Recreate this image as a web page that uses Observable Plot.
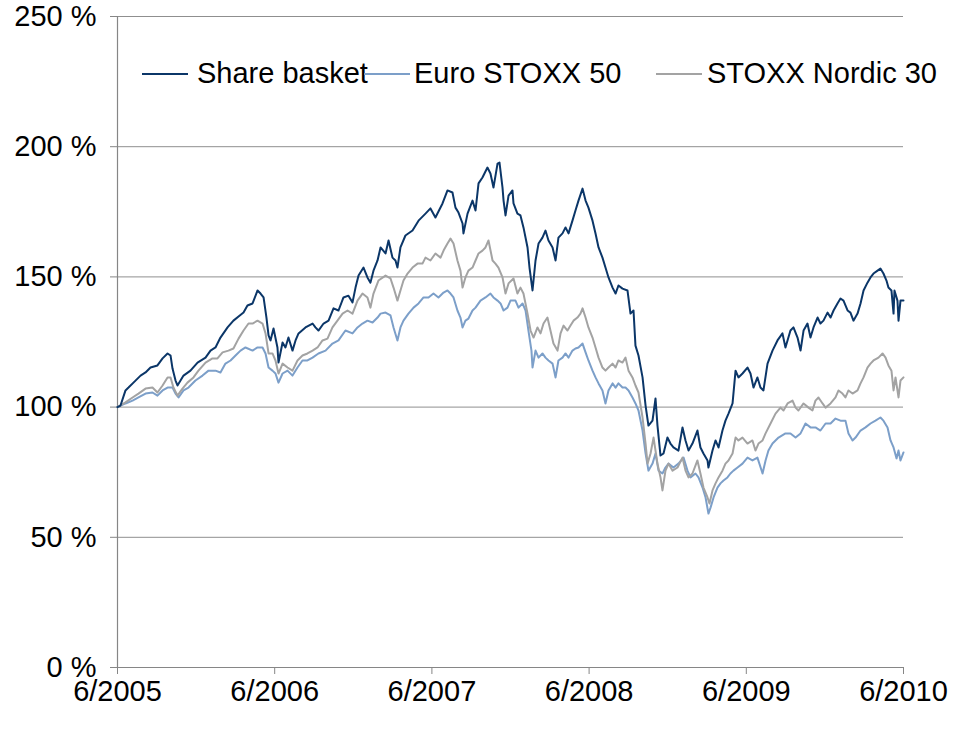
<!DOCTYPE html>
<html>
<head>
<meta charset="utf-8">
<script src="https://cdn.jsdelivr.net/npm/d3@7"></script>
<script src="https://cdn.jsdelivr.net/npm/@observablehq/plot@0.6"></script>
<style>
  html, body { margin: 0; padding: 0; background: #fff; }
  #wrap { position: relative; width: 954px; height: 729px; font-family: "Liberation Sans", Arial, sans-serif; }
  #legend { position: absolute; left: 0; top: 0; width: 954px; height: 100px; pointer-events: none; }
  .sw { position: absolute; height: 2px; top: 73px; width: 46px; }
  .lt { position: absolute; top: 59px; font-size: 29px; line-height: 29px; color: #000; white-space: nowrap; }
</style>
</head>
<body>
<div id="wrap">
  <div id="chart"></div>
  <div id="legend"></div>
</div>
<script>
// Series names and colours
const seriesNames = ["Share basket", "Euro STOXX 50", "STOXX Nordic 30"];
const seriesColors = ["#0b3668", "#7c9fc9", "#a3a3a3"];

// x = months since 6/2005, value = index level in %
const shareBasket = [
[0,100],[0.23,100.6],[0.61,106.4],[0.84,107.5],[1.22,109.4],[1.76,112.1],[2.14,113.3],[2.52,115.2],[3.05,116.0],[3.44,118.7],
[3.82,120.6],[4.05,119.8],[4.20,114.8],[4.43,110.2],[4.58,108.3],[5.04,112.1],[5.57,114.0],[6.11,117.1],[6.72,119.0],[7.10,121.7],
[7.48,122.9],[7.86,126.7],[8.40,130.6],[8.85,133.2],[9.24,134.8],[9.62,136.3],[9.92,139.0],[10.31,139.8],[10.69,144.8],[10.92,143.6],
[11.15,142.1],[11.37,134.4],[11.53,127.5],[11.68,125.6],[11.91,130.2],[12.21,122.9],[12.29,117.1],[12.60,124.8],[12.82,122.9],[13.05,126.7],
[13.36,121.7],[13.59,125.6],[13.82,128.3],[14.35,130.6],[14.89,132.1],[15.11,130.6],[15.34,129.4],[15.73,132.1],[16.11,133.2],[16.49,137.9],
[16.87,137.1],[17.25,142.1],[17.63,142.8],[17.94,140.2],[18.17,145.9],[18.40,150.5],[18.78,153.6],[19.08,149.8],[19.31,147.8],[19.54,152.4],
[19.85,156.3],[20.08,161.3],[20.46,159.0],[20.69,164.0],[20.99,157.4],[21.22,156.3],[21.37,153.6],[21.60,161.3],[21.98,165.9],[22.52,167.8],
[22.98,171.6],[23.51,174.3],[23.89,176.3],[24.27,172.8],[24.81,178.2],[25.19,183.2],[25.57,182.4],[25.80,176.6],[26.03,174.7],[26.34,170.5],
[26.41,166.7],[26.72,174.3],[27.10,179.3],[27.33,175.5],[27.56,185.9],[27.86,188.2],[28.24,192.0],[28.47,189.7],[28.70,184.3],[29.01,193.5],
[29.16,193.9],[29.39,184.3],[29.47,179.3],[29.62,173.6],[29.85,181.2],[30.15,183.2],[30.23,178.2],[30.53,174.3],[30.76,173.6],[30.99,169.0],
[31.30,161.3],[31.45,153.6],[31.68,144.8],[31.91,156.3],[32.14,162.8],[32.44,165.1],[32.67,167.8],[32.90,164.0],[33.21,161.3],[33.44,156.3],
[33.66,165.1],[33.97,166.7],[34.20,169.0],[34.43,166.7],[34.73,171.6],[34.96,175.5],[35.19,179.3],[35.50,183.9],[35.73,179.3],[35.95,176.6],
[36.26,171.6],[36.49,166.7],[36.72,161.3],[37.02,157.4],[37.25,153.6],[37.48,149.8],[37.79,145.9],[38.02,143.6],[38.24,146.7],[38.55,145.5],
[38.93,144.8],[39.16,135.9],[39.39,137.1],[39.54,123.6],[39.77,119.8],[40.08,111.4],[40.31,100.6],[40.53,92.9],[40.84,94.8],[41.07,103.3],
[41.22,92.9],[41.45,81.4],[41.68,82.2],[41.98,88.3],[42.21,86.0],[42.44,84.5],[42.82,83.3],[43.13,92.2],[43.36,87.2],[43.59,83.3],
[43.89,86.0],[44.27,91.0],[44.50,84.5],[44.73,82.2],[45.04,79.5],[45.11,76.8],[45.42,83.3],[45.65,87.2],[45.88,84.5],[46.18,91.0],
[46.41,94.8],[46.64,97.5],[46.95,101.4],[47.18,114.0],[47.40,111.4],[47.71,112.9],[48.09,115.2],[48.32,112.9],[48.55,107.5],[48.85,111.4],
[49.08,107.5],[49.31,106.4],[49.62,116.7],[50.00,121.7],[50.38,125.6],[50.76,128.3],[50.99,122.9],[51.37,129.4],[51.60,130.6],[51.91,126.7],
[52.14,121.7],[52.37,129.4],[52.67,132.1],[52.90,126.7],[53.13,130.6],[53.44,134.4],[53.66,132.1],[53.89,133.2],[54.20,136.3],[54.43,134.4],
[54.66,137.1],[54.96,139.8],[55.19,141.7],[55.42,140.9],[55.73,137.1],[55.95,136.3],[56.18,133.2],[56.49,135.9],[56.72,139.8],[56.95,144.8],
[57.25,147.8],[57.48,149.8],[57.71,151.3],[58.02,152.4],[58.24,153.2],[58.47,151.3],[58.70,148.6],[58.85,145.9],[59.08,144.8],[59.24,135.9],
[59.31,144.8],[59.54,140.9],[59.62,133.2],[59.77,140.9],[60,140.9]
];

const euroStoxx50 = [
[0,100],[0.61,101.4],[1.15,102.5],[1.60,103.7],[2.14,105.2],[2.67,105.6],[3.05,104.4],[3.44,106.4],[3.82,107.5],[4.20,107.5],
[4.43,105.2],[4.66,103.7],[5.04,106.4],[5.42,107.5],[5.95,110.2],[6.49,112.1],[6.95,114.0],[7.48,114.0],[7.86,113.3],[8.24,116.7],
[8.63,117.9],[9.01,119.8],[9.39,121.7],[9.77,122.9],[10.31,121.7],[10.69,122.9],[11.07,122.9],[11.30,120.6],[11.53,115.2],[11.83,114.0],
[12.06,112.9],[12.29,109.4],[12.60,112.9],[12.98,114.0],[13.36,112.1],[13.74,115.2],[14.12,117.9],[14.50,117.9],[14.89,119.0],[15.34,120.6],
[15.88,121.7],[16.41,124.4],[16.87,125.6],[17.40,129.4],[17.94,128.3],[18.32,130.6],[18.70,132.1],[19.08,133.2],[19.47,132.5],[19.85,134.4],
[20.08,135.9],[20.46,136.3],[20.84,135.2],[21.07,130.6],[21.37,125.6],[21.60,130.6],[21.83,133.2],[22.21,135.9],[22.60,138.2],[22.98,139.8],
[23.36,142.1],[23.74,142.1],[24.12,143.6],[24.50,142.1],[24.89,144.0],[25.19,144.8],[25.42,143.6],[25.65,142.1],[25.95,137.1],[26.18,134.4],
[26.34,130.6],[26.56,133.2],[26.79,134.0],[27.10,137.1],[27.33,138.2],[27.71,140.9],[28.09,142.1],[28.47,143.6],[28.70,142.1],[29.01,140.9],
[29.24,139.8],[29.47,137.1],[29.77,138.2],[30.00,140.9],[30.38,140.9],[30.61,138.2],[30.92,139.8],[31.15,137.1],[31.37,129.4],[31.60,121.7],
[31.68,115.2],[31.91,121.7],[32.14,119.0],[32.44,120.6],[32.67,119.0],[32.90,117.9],[33.21,116.7],[33.44,111.4],[33.66,117.9],[33.97,119.0],
[34.20,120.6],[34.43,119.0],[34.73,121.7],[34.96,122.5],[35.19,122.9],[35.50,124.4],[35.73,121.0],[35.95,117.9],[36.26,114.0],[36.49,111.4],
[36.72,109.1],[37.02,106.4],[37.25,101.4],[37.48,106.4],[37.79,109.1],[38.02,107.5],[38.24,109.1],[38.55,107.5],[38.78,107.5],[39.01,106.4],
[39.31,103.7],[39.54,101.4],[39.77,98.7],[40.08,91.0],[40.31,82.2],[40.53,75.6],[40.84,78.3],[41.07,82.2],[41.30,75.6],[41.60,74.5],
[41.83,76.8],[42.06,78.3],[42.44,76.8],[42.82,78.3],[43.21,80.6],[43.51,75.6],[43.74,73.0],[44.12,74.5],[44.35,73.0],[44.66,69.1],
[44.89,65.3],[45.11,59.1],[45.27,61.4],[45.50,65.3],[45.80,69.1],[46.03,70.7],[46.26,71.8],[46.56,73.0],[46.79,74.5],[47.02,75.6],
[47.33,76.8],[47.71,78.3],[48.09,80.6],[48.47,79.5],[48.85,80.6],[49.24,74.5],[49.47,79.5],[49.69,83.3],[50.00,86.0],[50.46,88.3],
[50.99,89.9],[51.37,89.9],[51.76,88.3],[52.14,89.9],[52.52,93.7],[52.90,92.2],[53.28,92.2],[53.66,91.0],[54.05,93.7],[54.43,93.7],
[54.81,95.6],[55.19,94.8],[55.57,94.8],[55.80,89.9],[56.11,87.2],[56.34,88.3],[56.72,91.0],[57.10,92.2],[57.48,93.7],[57.86,94.8],
[58.24,96.0],[58.47,94.8],[58.78,92.2],[59.01,87.2],[59.24,84.5],[59.47,80.3],[59.62,83.3],[59.77,79.5],[60,82.6]
];

const stoxxNordic30 = [
[0,100],[0.61,101.8],[1.15,103.7],[1.60,105.2],[2.14,107.1],[2.67,107.5],[3.05,105.6],[3.44,108.3],[3.82,111.4],[4.05,111.4],
[4.27,107.5],[4.58,104.4],[4.96,107.1],[5.34,109.4],[5.80,111.4],[6.18,114.0],[6.72,117.1],[7.25,118.7],[7.63,118.7],[8.02,121.0],
[8.47,121.7],[8.85,122.5],[9.24,126.3],[9.62,129.4],[10.00,132.1],[10.31,132.1],[10.69,133.2],[11.07,132.1],[11.30,128.3],[11.53,120.6],
[11.83,120.6],[12.06,117.9],[12.29,112.9],[12.60,116.7],[12.98,115.2],[13.36,114.0],[13.74,117.9],[14.12,119.8],[14.50,120.6],[14.89,121.7],
[15.27,122.9],[15.65,125.6],[16.03,126.3],[16.41,130.6],[16.79,133.2],[17.18,135.9],[17.56,137.1],[17.94,135.9],[18.32,140.9],[18.70,143.6],
[19.08,142.1],[19.31,138.2],[19.54,143.6],[19.92,148.6],[20.46,150.5],[20.84,149.4],[21.07,145.9],[21.37,140.9],[21.60,144.8],[21.83,148.6],
[22.14,151.3],[22.52,153.6],[22.90,155.1],[23.28,155.1],[23.51,157.4],[23.89,156.3],[24.27,159.0],[24.66,157.4],[24.89,160.1],[25.19,162.8],
[25.42,164.7],[25.65,162.8],[25.95,156.3],[26.18,152.4],[26.34,145.9],[26.56,149.8],[26.79,152.4],[27.10,153.6],[27.33,156.3],[27.56,159.0],
[27.86,160.1],[28.09,161.3],[28.32,164.0],[28.63,156.3],[28.85,155.1],[29.08,153.6],[29.39,149.8],[29.62,143.6],[29.85,147.5],[30.23,149.4],
[30.53,143.6],[30.76,145.9],[30.99,143.6],[31.30,135.9],[31.53,129.4],[31.76,126.7],[32.06,130.6],[32.29,128.3],[32.52,132.1],[32.82,134.4],
[33.05,129.4],[33.28,124.4],[33.59,121.7],[33.82,128.3],[34.05,131.3],[34.35,129.4],[34.58,131.3],[34.81,133.2],[35.11,134.4],[35.34,135.9],
[35.50,137.9],[35.73,134.4],[35.95,130.6],[36.26,126.7],[36.49,122.9],[36.72,119.0],[37.02,115.2],[37.25,114.0],[37.48,115.2],[37.79,116.7],
[38.02,115.2],[38.24,117.9],[38.55,117.1],[38.78,119.0],[39.01,114.0],[39.31,111.4],[39.54,108.3],[39.77,105.6],[40.08,96.0],[40.31,86.0],
[40.46,78.3],[40.69,82.2],[40.92,88.3],[41.22,78.3],[41.45,73.0],[41.60,68.0],[41.83,75.6],[42.06,78.3],[42.37,75.6],[42.75,76.8],
[43.13,80.6],[43.36,75.6],[43.59,73.0],[43.89,74.5],[44.27,79.5],[44.50,74.5],[44.73,69.1],[45.04,65.3],[45.19,63.0],[45.42,68.0],
[45.65,70.7],[45.88,73.0],[46.18,75.6],[46.41,78.3],[46.64,79.5],[46.95,82.2],[47.18,88.3],[47.40,87.2],[47.71,88.3],[48.09,86.0],
[48.47,87.2],[48.70,83.3],[48.93,86.0],[49.24,87.2],[49.47,89.9],[49.85,93.7],[50.23,97.5],[50.61,99.8],[50.84,98.7],[51.15,101.4],
[51.53,102.5],[51.76,99.8],[51.98,98.7],[52.37,101.4],[52.75,99.8],[53.05,98.7],[53.28,102.5],[53.51,103.7],[53.82,101.4],[54.05,99.8],
[54.43,101.4],[54.81,103.7],[55.04,106.4],[55.34,105.2],[55.57,103.7],[55.80,106.4],[56.11,105.2],[56.49,106.4],[56.72,109.1],[56.95,111.4],
[57.25,115.2],[57.48,116.7],[57.71,117.9],[58.09,119.0],[58.40,120.6],[58.63,119.0],[58.85,116.0],[59.08,114.0],[59.24,106.4],[59.39,111.4],
[59.62,103.7],[59.77,110.2],[60,111.4]
];

// Axis ticks
const xTickMonths = [0, 12, 24, 36, 48, 60];
const xTickLabels = ["6/2005", "6/2006", "6/2007", "6/2008", "6/2009", "6/2010"];
const yTicks = [0, 50, 100, 150, 200, 250];

const seriesData = [shareBasket, euroStoxx50, stoxxNordic30];
const rows = [];
seriesData.forEach((arr, k) => arr.forEach(([month, value]) => rows.push({series: seriesNames[k], month, value})));

const xLabel = new Map(xTickMonths.map((m, i) => [m, xTickLabels[i]]));
const axisGray = "#868686";

const chart = Plot.plot({
  width: 954,
  height: 729,
  marginLeft: 117,
  marginRight: 51,
  marginTop: 16,
  marginBottom: 62,
  style: {fontFamily: "'Liberation Sans', Arial, sans-serif", fontSize: "29px", color: "#000", background: "#fff", overflow: "visible"},
  x: {domain: [0, 60]},
  y: {domain: [0, 250]},
  color: {domain: seriesNames, range: seriesColors},
  marks: [
    Plot.gridY(yTicks.slice(1), {stroke: "#8f8f8f", strokeOpacity: 1, strokeWidth: 1}),
    Plot.axisY({ticks: yTicks, tickFormat: d => d + " %", tickSize: 7, tickPadding: 14, stroke: axisGray, label: null}),
    Plot.axisX({ticks: xTickMonths, tickFormat: d => xLabel.get(d), tickSize: 7, tickPadding: 6, stroke: axisGray, label: null}),
    Plot.ruleX([0], {stroke: axisGray, strokeWidth: 1.2}),
    Plot.ruleY([0], {stroke: axisGray, strokeWidth: 1.2}),
    Plot.lineY(rows.filter(d => d.series === seriesNames[1]), {x: "month", y: "value", stroke: "series", strokeWidth: 2}),
    Plot.lineY(rows.filter(d => d.series === seriesNames[2]), {x: "month", y: "value", stroke: "series", strokeWidth: 2}),
    Plot.lineY(rows.filter(d => d.series === seriesNames[0]), {x: "month", y: "value", stroke: "series", strokeWidth: 2})
  ]
});
document.getElementById("chart").appendChild(chart);

// Legend inside the plot area (HTML overlay)
const legendPos = [{sw: 142, tx: 197}, {sw: 364, tx: 414}, {sw: 656, tx: 707}];
const legend = document.getElementById("legend");
seriesNames.forEach((name, i) => {
  const sw = document.createElement("div");
  sw.className = "sw";
  sw.style.left = legendPos[i].sw + "px";
  sw.style.background = seriesColors[i];
  legend.appendChild(sw);
  const t = document.createElement("div");
  t.className = "lt";
  t.style.left = legendPos[i].tx + "px";
  t.textContent = name;
  legend.appendChild(t);
});
</script>
</body>
</html>
